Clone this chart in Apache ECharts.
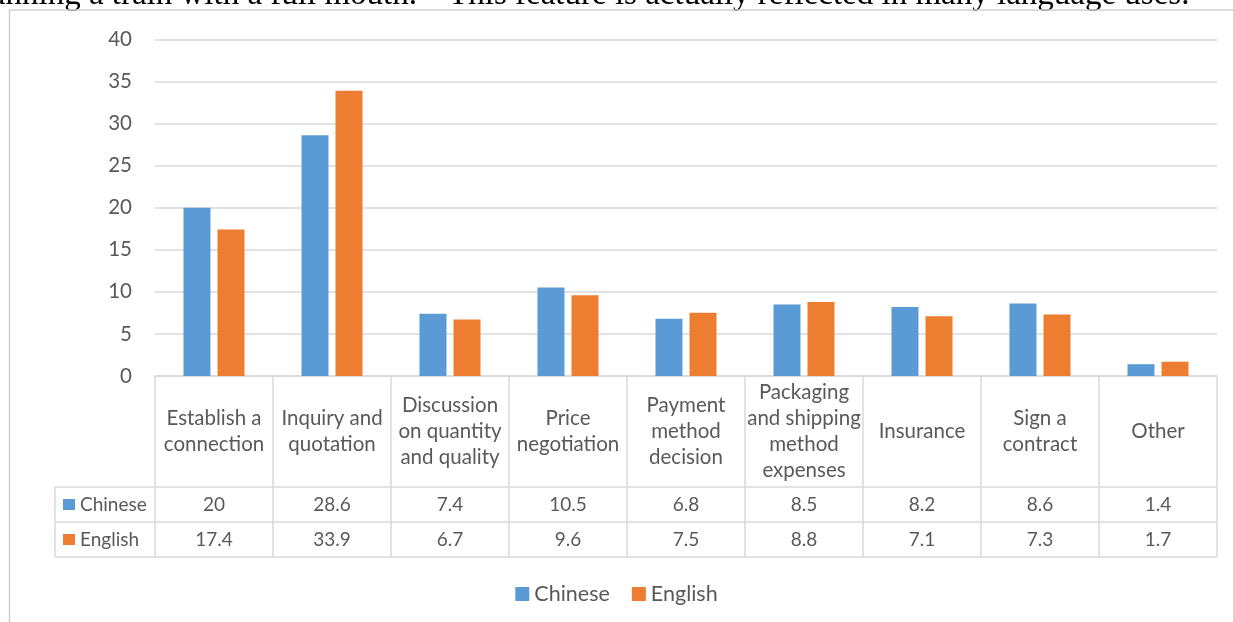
<!DOCTYPE html>
<html><head><meta charset="utf-8">
<script src="https://cdn.jsdelivr.net/npm/echarts@6/dist/echarts.min.js"></script>
<style>html,body{margin:0;padding:0;background:#fff;overflow:hidden}#c{width:1233px;height:622px}</style>
</head><body><div id="c"></div>
<script>
const categories = ['Establish a connection','Inquiry and quotation','Discussion on quantity and quality','Price negotiation','Payment method decision','Packaging and shipping method expenses','Insurance','Sign a contract','Other'];
const categoryLabels = ['Establish a\nconnection','Inquiry and\nquotation','Discussion\non quantity\nand quality','Price\nnegotiation','Payment\nmethod\ndecision','Packaging\nand shipping\nmethod\nexpenses','Insurance','Sign a\ncontract','Other'];
const seriesNames = ['Chinese','English'];
const chinese = [20, 28.6, 7.4, 10.5, 6.8, 8.5, 8.2, 8.6, 1.4];
const english = [17.4, 33.9, 6.7, 9.6, 7.5, 8.8, 7.1, 7.3, 1.7];
const yTicks = [0,5,10,15,20,25,30,35,40];
const topText = 'running a train with a full mouth.\u201D  This feature is actually reflected in many language uses.';

const BLUE = '#5B9BD5', ORANGE = '#ED7D31', GRID = '#d9d9d9', TXT = '#595959';
const FONT = 'Lato, "Open Sans", sans-serif';
const W = 1233, H = 622;
const gLeft = 155, gRight = 1217, gTop = 39.3, gBottom = 376;
const rowH = 35, headH = 111;
const tLeft = 55;
const row1 = gBottom + headH, row2 = row1 + rowH, row3 = row2 + rowH;

const chart = echarts.init(document.getElementById('c'), null, {renderer:'canvas'});
const line = (x1,y1,x2,y2,w,c) => ({type:'line', silent:true, shape:{x1,y1,x2,y2}, style:{stroke:c||GRID, lineWidth:w||1.5}});

const graphic = [
  {type:'text', left:-22, top:-21, silent:true, style:{text:topText, font:'33px "Liberation Serif", "Times New Roman", serif', fill:'#000'}},
  line(9.5, 10, 9.5, H, 1.5, '#d0d0d0'),
  line(9, 10, W, 10, 1.5, '#d0d0d0'),
  line(tLeft, row1, gRight, row1),
  line(tLeft, row2, gRight, row2),
  line(tLeft, row3, gRight, row3),
  line(tLeft, row1, tLeft, row3),
];
[[BLUE, seriesNames[0], row1], [ORANGE, seriesNames[1], row2]].forEach(([col, name, y]) => {
  graphic.push({type:'rect', silent:true, shape:{x:63, y:y + rowH/2 - 5.5, width:12, height:11}, style:{fill:col}});
  graphic.push({type:'text', silent:true, style:{text:name, x:80, y:y + rowH/2, textVerticalAlign:'middle', font:'19px ' + FONT, fill:TXT}});
});

const valueAxis = (vals, off) => ({
  type:'category', data: vals.map(String), gridIndex:0, position:'bottom', offset: off,
  axisLine:{show:false}, axisTick:{show:false}, splitLine:{show:false},
  axisLabel:{interval:0, margin: rowH/2, verticalAlign:'middle', color:TXT, fontFamily:FONT, fontSize:19}
});

chart.setOption({
  animation:false,
  backgroundColor:'#fff',
  color:[BLUE, ORANGE],
  grid:{left:gLeft, right:W-gRight, top:gTop, bottom:H-gBottom, containLabel:false},
  legend:{data:seriesNames, bottom:12, left:'center', itemWidth:14, itemHeight:14, itemGap:22, icon:'rect',
    textStyle:{color:TXT, fontFamily:FONT, fontSize:21.5}},
  xAxis:[
    {type:'category', data:categoryLabels, position:'bottom',
      axisLine:{show:true, lineStyle:{color:GRID, width:1.5}},
      axisTick:{show:true, interval:0, length: headH + 2*rowH, lineStyle:{color:GRID, width:1.5}},
      axisLabel:{interval:0, margin: headH/2, verticalAlign:'middle', lineHeight:26, color:TXT, fontFamily:FONT, fontSize:20.5}},
    valueAxis(chinese, headH),
    valueAxis(english, headH + rowH)
  ],
  yAxis:{type:'value', min:yTicks[0], max:yTicks[yTicks.length-1], interval:5,
    axisLine:{show:false}, axisTick:{show:false},
    splitLine:{lineStyle:{color:GRID, width:1.5}},
    axisLabel:{margin:23, color:TXT, fontFamily:FONT, fontSize:20.5}},
  series:[
    {name:seriesNames[0], type:'bar', data:chinese, barWidth:27, barGap:'26%', xAxisIndex:0},
    {name:seriesNames[1], type:'bar', data:english, barWidth:27, barGap:'26%', xAxisIndex:0}
  ],
  graphic
});
</script></body></html>
